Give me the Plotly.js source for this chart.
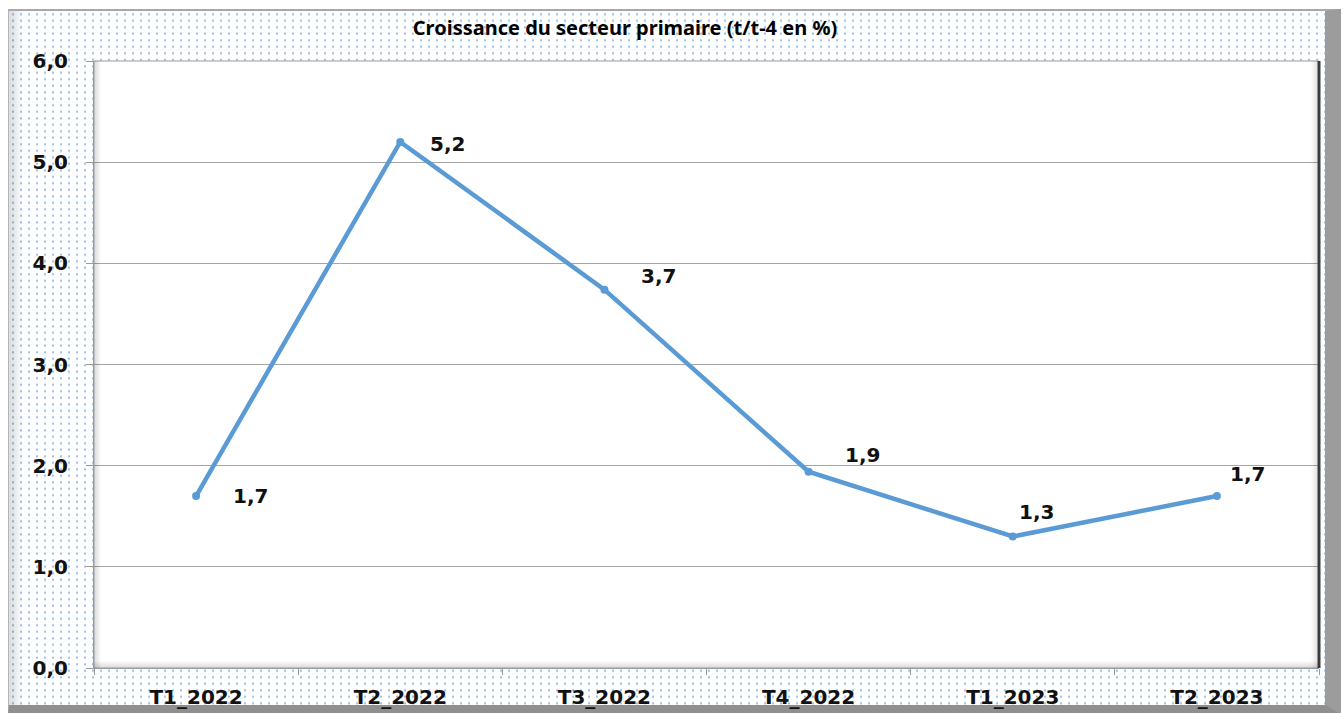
<!DOCTYPE html>
<html>
<head>
<meta charset="utf-8">
<script src="https://cdn.plot.ly/plotly-3.0.1.min.js"></script>
<style>
  html, body { margin:0; padding:0; background:#ffffff; }
  #wrap { position:relative; width:1344px; height:713px; overflow:hidden; }
  #frame {
    position:absolute; left:8px; top:9px; width:1316px; height:694px;
    border-top:2px solid #a9a9a9;
    border-left:1px solid #b5b5b5;
    border-right:16px solid #9c9c9c;
    border-bottom:9px solid #8f8f8f;
    background-color:#ffffff;
    background-image: radial-gradient(circle, #8dbbea 0.85px, rgba(255,255,255,0) 1.25px);
    background-size: 8px 6.5px;
    box-shadow: inset 14px 0 8px -6px rgba(0,0,0,0.13);
  }
  #chart { position:absolute; left:0; top:0; width:1344px; height:713px; }
</style>
</head>
<body>
<div id="wrap">
  <div id="frame"></div>
  <div id="chart"></div>
</div>
<script>
const categories = ["T1_2022", "T2_2022", "T3_2022", "T4_2022", "T1_2023", "T2_2023"];
const values = [1.7, 5.2, 3.74, 1.94, 1.3, 1.7];
const valueLabels = ["1,7", "5,2", "3,7", "1,9", "1,3", "1,7"];
const yTickValues = [0, 1, 2, 3, 4, 5, 6];
const yTickLabels = ["0,0", "1,0", "2,0", "3,0", "4,0", "5,0", "6,0"];

// label offsets (pixels) relative to each point
const labelShiftX = [35, 28, 35, 34, 4, 11];
const labelShiftY = [0, -2, 14, 17, 24, 22];

const font = "DejaVu Sans, Verdana, sans-serif";

const annotations = categories.map((c, i) => ({
  x: c, y: values[i], xref: "x", yref: "y",
  text: valueLabels[i], showarrow: false,
  xanchor: "left", yanchor: "middle",
  xshift: labelShiftX[i], yshift: labelShiftY[i],
  font: { family: font, size: 20, color: "#111111", weight: "bold" }
}));

const shapes = [
  { type: "rect", xref: "paper", yref: "paper", x0: 0, x1: 1, y0: 0, y1: 1,
    line: { color: "#9a9a9a", width: 1 } },
  { type: "line", xref: "paper", yref: "paper", x0: 1, x1: 1, y0: 0, y1: 1,
    line: { color: "#3c3c3c", width: 3 } }
];
for (let k = 1; k <= 6; k++) {
  const a = 0.16 * (1 - k / 7);
  shapes.push({ type: "line", xref: "paper", yref: "paper",
    x0: k / 1225, x1: k / 1225, y0: 0, y1: 1,
    line: { color: "rgba(0,0,0," + a.toFixed(3) + ")", width: 1 } });
  shapes.push({ type: "line", xref: "paper", yref: "paper",
    x0: 0, x1: 1, y0: k / 607, y1: k / 607,
    line: { color: "rgba(0,0,0," + a.toFixed(3) + ")", width: 1 } });
  shapes.push({ type: "line", xref: "paper", yref: "paper",
    x0: 1 - (k + 1) / 1225, x1: 1 - (k + 1) / 1225, y0: 0, y1: 1,
    line: { color: "rgba(0,0,0," + (a * 0.8).toFixed(3) + ")", width: 1 } });
}

const trace = {
  type: "scatter", mode: "lines+markers",
  x: categories, y: values,
  line: { color: "#5B9BD5", width: 4.5 },
  marker: { color: "#5B9BD5", size: 8 },
  hoverinfo: "x+y"
};

const layout = {
  width: 1344, height: 713,
  margin: { l: 94, r: 25, t: 61, b: 45 },
  paper_bgcolor: "rgba(0,0,0,0)",
  plot_bgcolor: "#ffffff",
  showlegend: false,
  separators: ",.",
  title: {
    text: "Croissance du secteur primaire (t/t-4 en %)",
    x: 625 / 1344, xref: "container", xanchor: "center",
    y: 1 - 28 / 713, yref: "container", yanchor: "middle",
    font: { family: "Noto Sans, Open Sans, sans-serif", size: 20, color: "#000000", weight: "bold" }
  },
  xaxis: {
    type: "category",
    tickson: "boundaries",
    ticks: "outside", ticklen: 6, tickcolor: "#9a9a9a", tickwidth: 1,
    showgrid: false, zeroline: false,
    showline: true, linecolor: "#9a9a9a", linewidth: 1,
    ticklabelstandoff: 11,
    tickfont: { family: font, size: 20, color: "#111111", weight: "bold" },
    range: [-0.5, 5.5]
  },
  yaxis: {
    range: [0, 6],
    tickvals: yTickValues, ticktext: yTickLabels,
    ticks: "outside", ticklen: 7, tickcolor: "#9a9a9a", tickwidth: 1,
    showgrid: true, gridcolor: "#a6a6a6", gridwidth: 1,
    zeroline: false,
    showline: true, linecolor: "#9a9a9a", linewidth: 1,
    ticklabelstandoff: 14,
    tickfont: { family: font, size: 20, color: "#111111", weight: "bold" }
  },
  annotations: annotations,
  shapes: shapes
};

Plotly.newPlot("chart", [trace], layout, { displayModeBar: false, staticPlot: true });
</script>
</body>
</html>
